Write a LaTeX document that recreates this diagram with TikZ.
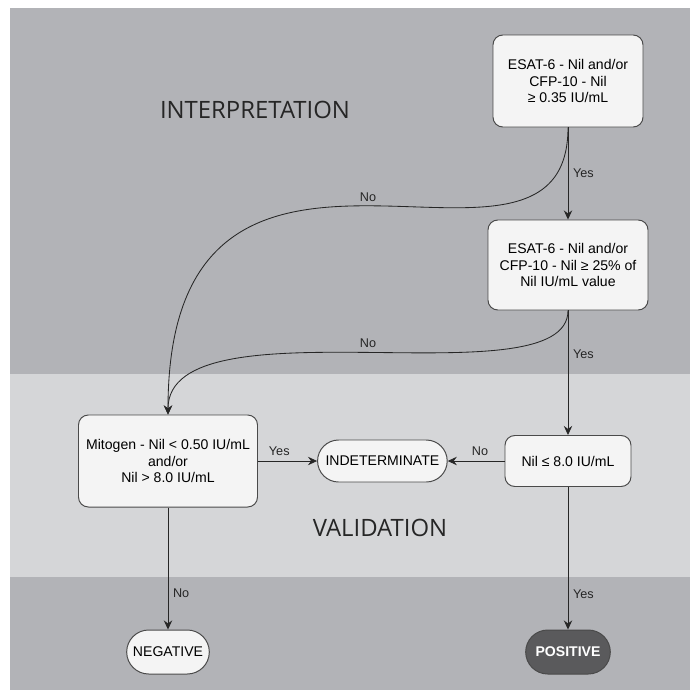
\documentclass[tikz,border=0pt]{standalone}
\usepackage{fontspec}
\setmainfont{Liberation Sans}
\newfontfamily\bandfont{Open Sans}
\usetikzlibrary{arrows.meta, shapes.misc}
\definecolor{bandgray}{HTML}{B2B3B7}
\definecolor{midgray}{HTML}{D5D6D8}
\definecolor{boxfill}{HTML}{F4F4F4}
\definecolor{edgegray}{HTML}{4A4A4A}
\definecolor{posfill}{HTML}{5A5A5C}

\begin{document}
\begin{tikzpicture}[
  test/.style={draw=edgegray, fill=boxfill, line width=0.7pt, rounded corners=7pt, align=center, font=\fontsize{10}{12}\selectfont, inner sep=2pt},
  result/.style={rounded rectangle, draw=edgegray, fill=boxfill, line width=0.7pt, font=\fontsize{10}{12}\selectfont, minimum height=1.1cm},
  flow/.style={-{Stealth[length=6.5pt, width=6pt, inset=2.2pt]}, draw=black!85, line width=0.6pt},
  lbl/.style={font=\fontsize{9}{11}\selectfont, text=black!85},
  band/.style={font=\bandfont\fontsize{17}{20}\selectfont, text=black!85}
]
  \useasboundingbox (0,0) rectangle (17.25,-17.25);
  % background bands
  \fill[bandgray] (0.25,-0.2) rectangle (17.25,-9.35);
  \fill[midgray] (0.25,-9.35) rectangle (17.25,-14.425);
  \fill[bandgray] (0.25,-14.425) rectangle (17.25,-17.25);
  \node[band] (interp) at (6.375,-2.75) {INTERPRETATION};
  \node[band] (valid) at (9.5,-13.2) {VALIDATION};

  % tests
  \node[test, minimum width=3.75cm, minimum height=2.3cm] (esat) at (14.2,-2.025) {ESAT-6 - Nil and/or\\CFP-10 - Nil\\≥ 0.35 IU/mL};
  \node[test, minimum width=4cm, minimum height=2.25cm] (ratio) at (14.2,-6.625) {ESAT-6 - Nil and/or\\CFP-10 - Nil ≥ 25\% of\\Nil IU/mL value};
  \node[test, minimum width=4.475cm, minimum height=2.3cm] (mito) at (4.2,-11.525) {Mitogen - Nil < 0.50 IU/mL\\and/or\\Nil > 8.0 IU/mL};
  \node[test, minimum width=3.15cm, minimum height=1.275cm] (nil) at (14.2,-11.525) {Nil ≤ 8.0 IU/mL};

  % outcomes
  \node[result, minimum width=3.475cm, minimum height=1.05cm] (indet) at (9.56,-11.525) {INDETERMINATE};
  \node[result, minimum width=2.3cm] (neg) at (4.2,-16.3) {NEGATIVE};
  \node[result, minimum width=2.35cm, fill=posfill, text=white, font=\bfseries\fontsize{10}{12}\selectfont] (pos) at (14.2,-16.3) {POSITIVE};

  % connectors
  \draw[flow] (esat.south) -- node[lbl, right] {Yes} (ratio.north);
  \draw[flow] (esat.south) .. controls +(0,-4.975) and +(0,9.275) .. node[lbl, pos=0.5, above] {No} (mito.north);
  \draw[flow] (ratio.south) -- node[lbl, right, pos=0.35] {Yes} (nil.north);
  \draw[flow] (ratio.south) .. controls +(0,-2.3125) and +(0,2.9375) .. node[lbl, pos=0.5, above] {No} (mito.north);
  \draw[flow] (mito.east) -- node[lbl, above, pos=0.36] {Yes} (indet.west);
  \draw[flow] (nil.west) -- node[lbl, above, pos=0.43] {No} (indet.east);
  \draw[flow] (mito.south) -- node[lbl, right, pos=0.7] {No} (neg.north);
  \draw[flow] (nil.south) -- node[lbl, right, pos=0.75] {Yes} (pos.north);
\end{tikzpicture}
\end{document}
